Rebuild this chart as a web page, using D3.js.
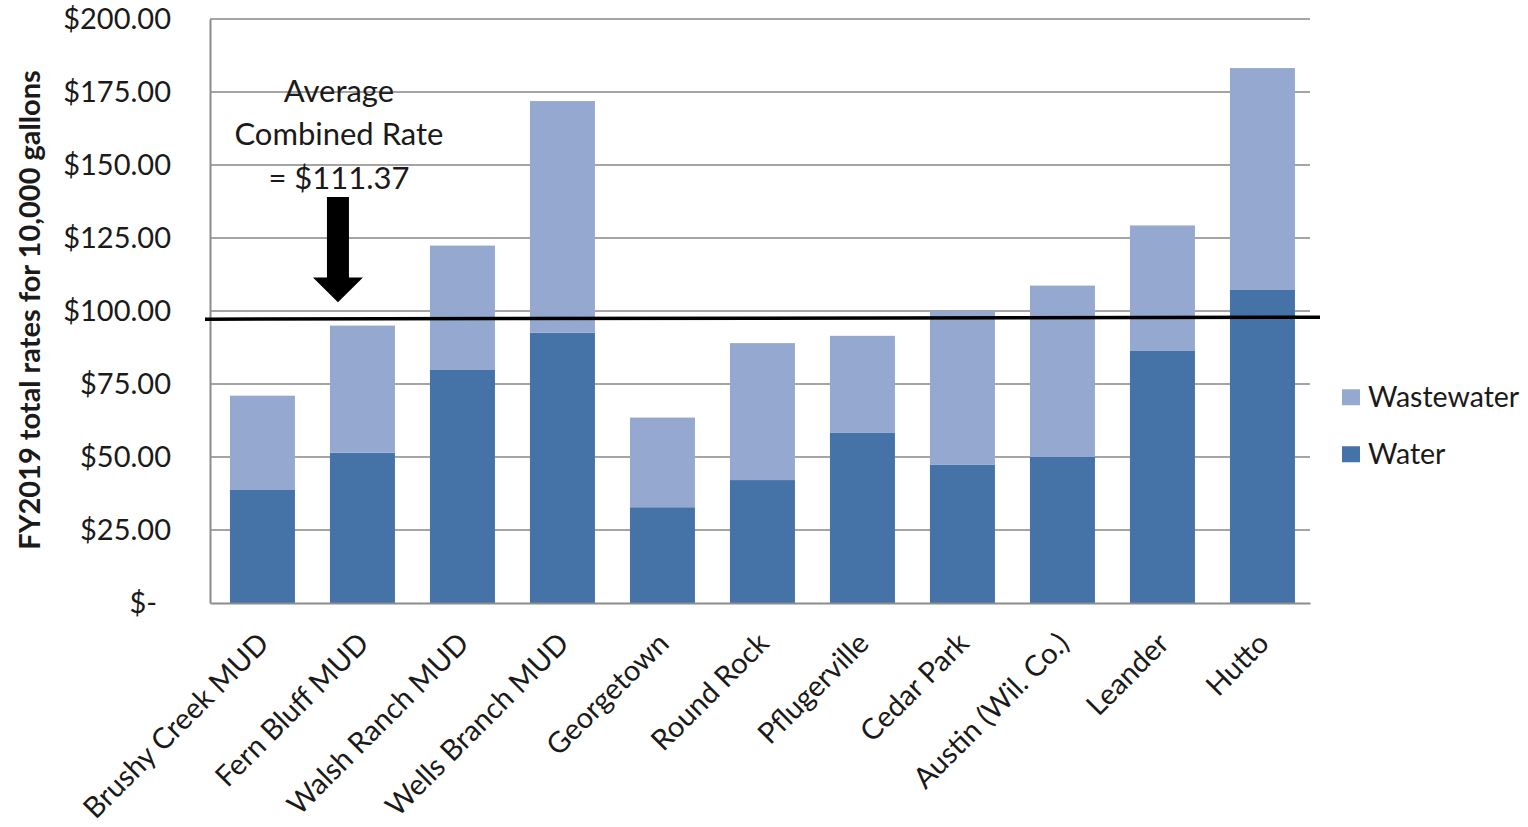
<!DOCTYPE html>
<html>
<head>
<meta charset="utf-8">
<script src="https://cdn.jsdelivr.net/npm/d3@7"></script>
<style>
  body { margin: 0; background: #fff; }
  text { font-family: Lato, "Open Sans", sans-serif; fill: #1a1a1a; }
</style>
</head>
<body>
<div id="chart"></div>
<script>
// Chart data
const categories = ['Brushy Creek MUD', 'Fern Bluff MUD', 'Walsh Ranch MUD', 'Wells Branch MUD',
  'Georgetown', 'Round Rock', 'Pflugerville', 'Cedar Park', 'Austin (Wil. Co.)', 'Leander', 'Hutto'];
const water = [38.7, 51.5, 79.8, 92.6, 32.8, 42.1, 58.4, 47.3, 50.0, 86.5, 107.2];
const wastewater = [32.3, 43.5, 42.6, 79.3, 30.7, 46.9, 33.1, 52.7, 58.7, 42.8, 76.0];
const seriesNames = ['Water', 'Wastewater'];
const yTicks = [0, 25, 50, 75, 100, 125, 150, 175, 200];
const yTickLabels = ['$-', '$25.00', '$50.00', '$75.00', '$100.00', '$125.00', '$150.00', '$175.00', '$200.00'];
// the hand-drawn average line (left end, right end)
const averageLine = [97.2, 97.9];
const annotationLines = ['Average', 'Combined Rate', '= $111.37'];

const colors = { Water: '#4573a8', Wastewater: '#95a9d0' };

const W = 1528, H = 827;
const margin = { top: 19, right: 218, bottom: 224, left: 210 };
const width = W - margin.left - margin.right;
const height = H - margin.top - margin.bottom;

const svg = d3.select('#chart')
  .append('svg')
  .attr('width', W)
  .attr('height', H)
  .append('g')
  .attr('transform', `translate(${margin.left},${margin.top})`);

// Scales
const x = d3.scaleBand()
  .domain(categories)
  .range([0, width])
  .paddingInner(0.35)
  .paddingOuter(0.175)
  .align(0.57);

const y = d3.scaleLinear()
  .domain([0, 200])
  .range([height, 0]);

// Gridlines
svg.append('g')
  .selectAll('line')
  .data(yTicks.filter(d => d > 0))
  .enter()
  .append('line')
  .attr('x1', 0)
  .attr('x2', width)
  .attr('y1', d => y(d))
  .attr('y2', d => y(d))
  .attr('stroke', '#a5a5a5')
  .attr('stroke-width', 2);

// Stacked bars
const rows = categories.map((c, i) => ({ name: c, Water: water[i], Wastewater: wastewater[i] }));
const stacked = d3.stack().keys(seriesNames)(rows);

svg.append('g')
  .selectAll('g')
  .data(stacked)
  .enter()
  .append('g')
  .attr('fill', d => colors[d.key])
  .selectAll('rect')
  .data(d => d)
  .enter()
  .append('rect')
  .attr('x', d => x(d.data.name))
  .attr('width', x.bandwidth())
  .attr('y', d => y(d[1]))
  .attr('height', d => y(d[0]) - y(d[1]));

// Y axis
const yAxis = svg.append('g')
  .call(d3.axisLeft(y)
    .tickValues(yTicks)
    .tickSize(0)
    .tickPadding(39)
    .tickFormat((d, i) => yTickLabels[i]));
yAxis.select('.domain').attr('stroke', '#8c8c8c').attr('stroke-width', 2);
yAxis.selectAll('text')
  .style('font-family', 'Lato, sans-serif')
  .style('font-size', '29px')
  .attr('fill', '#1a1a1a')
  .attr('dx', d => d === 0 ? -14 : 0);

// X axis
const xAxis = svg.append('g')
  .attr('transform', `translate(0,${height})`)
  .call(d3.axisBottom(x).tickSize(0).tickPadding(0));
xAxis.select('.domain').attr('stroke', '#8c8c8c').attr('stroke-width', 2);
xAxis.selectAll('text')
  .style('font-family', 'Lato, sans-serif')
  .style('font-size', '29px')
  .attr('fill', '#1a1a1a')
  .attr('text-anchor', 'end')
  .attr('transform', 'translate(1,35) rotate(-45)')
  .attr('dy', '0.35em');

// Average line (slightly tilted, overruns the plot a little)
svg.append('line')
  .attr('x1', -5)
  .attr('x2', width + 10)
  .attr('y1', y(averageLine[0]))
  .attr('y2', y(averageLine[1]))
  .attr('stroke', '#000')
  .attr('stroke-width', 3.5);

// Annotation text and arrow
const annX = x(categories[0]) + x.bandwidth() + x.step() * 0.43;
svg.append('g')
  .selectAll('text')
  .data(annotationLines)
  .enter()
  .append('text')
  .attr('x', annX + 1)
  .attr('y', (d, i) => y(171.6) + i * 43.5)
  .attr('text-anchor', 'middle')
  .style('font-size', '31px')
  .text(d => d);

const shaftTop = y(139), headBase = y(111.5), tip = y(103);
svg.append('path')
  .attr('d', `M${annX - 11},${shaftTop} H${annX + 11} V${headBase} H${annX + 25} L${annX},${tip} L${annX - 25},${headBase} H${annX - 11} Z`)
  .attr('fill', '#000');

// Legend
const legend = svg.append('g')
  .attr('transform', `translate(${width + 32},0)`);
const legendItems = ['Wastewater', 'Water'];
legend.selectAll('rect')
  .data(legendItems)
  .enter()
  .append('rect')
  .attr('x', 0)
  .attr('y', (d, i) => y(73.2) + i * 57)
  .attr('width', 18)
  .attr('height', 16)
  .attr('fill', d => colors[d]);
legend.selectAll('text')
  .data(legendItems)
  .enter()
  .append('text')
  .attr('x', 26)
  .attr('y', (d, i) => y(73.2) + 8 + i * 57)
  .attr('dy', '0.35em')
  .style('font-size', '28.5px')
  .text(d => d);

// Y axis title
svg.append('text')
  .attr('transform', 'rotate(-90)')
  .attr('x', -height / 2 + 1)
  .attr('y', -margin.left + 40)
  .attr('text-anchor', 'middle')
  .style('font-size', '29px')
  .style('font-weight', 'bold')
  .text('FY2019 total rates for 10,000 gallons');
</script>
</body>
</html>
